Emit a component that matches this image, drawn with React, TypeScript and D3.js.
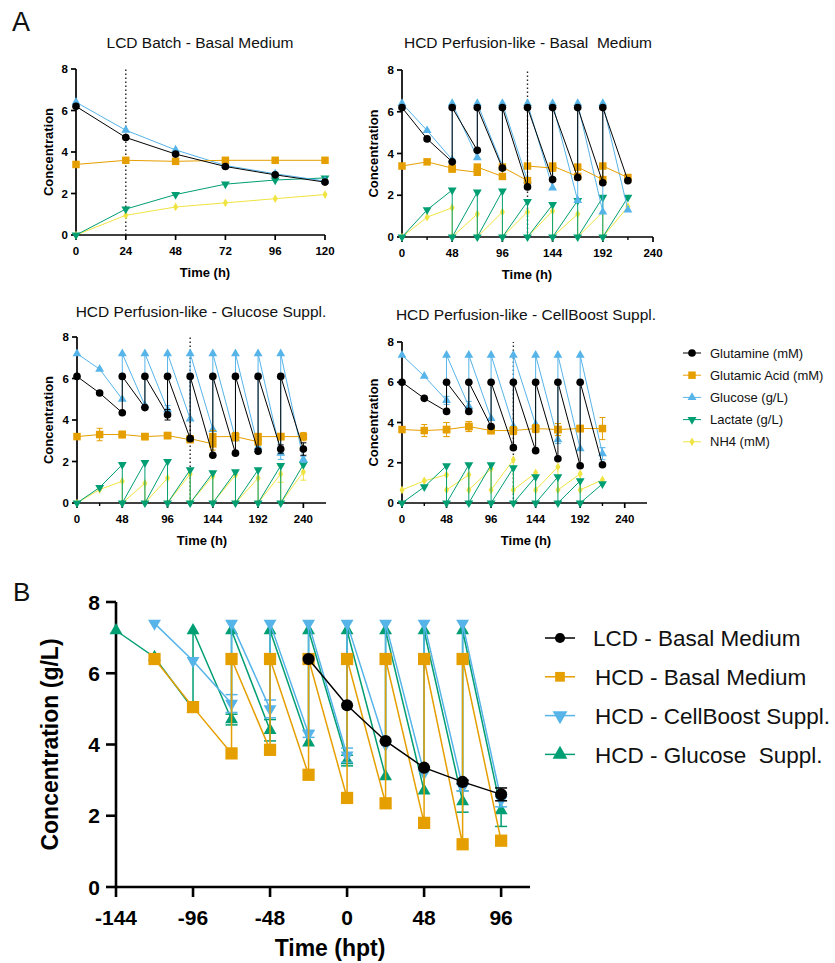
import React from 'react';
import * as d3 from 'd3';

const FONT = '"Liberation Sans", Arial, Helvetica, sans-serif';

// ---------- panel A : metabolites ----------
const metaNames = ['Glutamine (mM)', 'Glutamic Acid (mM)', 'Glucose (g/L)', 'Lactate (g/L)', 'NH4 (mM)'];
const metaColors = ['#000000', '#E69F00', '#56B4E9', '#009E73', '#F0E442'];
const metaShapes = ['circle', 'square', 'up', 'down', 'diamond'];
const yTicks = [0, 2, 4, 6, 8];

// LCD batch - basal medium
const lcdTime = [0, 24, 48, 72, 96, 120];
const lcdGlutamine = [6.2, 4.7, 3.9, 3.3, 2.9, 2.55];
const lcdGlutamic = [3.4, 3.6, 3.55, 3.6, 3.6, 3.6];
const lcdGlucose = [6.4, 5.05, 4.1, 3.35, 2.95, 2.6];
const lcdLactate = [0, 1.25, 1.95, 2.45, 2.65, 2.75];
const lcdNh4 = [0, 0.95, 1.35, 1.55, 1.75, 1.95];

// HCD perfusion-like: value before and after each medium exchange
const hcdTime = [0, 24, 48, 48, 72, 72, 96, 96, 120, 120, 144, 144, 168, 168, 192, 192, 216];
const basalGlutamine = [6.2, 4.7, 3.6, 6.2, 4.15, 6.2, 3.3, 6.2, 2.4, 6.2, 2.75, 6.2, 2.85, 6.2, 2.6, 6.2, 2.7];
const basalGlutamic = [3.4, 3.6, 3.3, 3.25, 3.1, 3.35, 2.9, 3.35, 2.7, 3.4, 3.3, 3.4, 2.9, 3.35, 2.75, 3.4, 2.85];
const basalGlucose = [6.4, 5.1, 3.7, 6.4, 3.8, 6.4, 3.4, 6.4, 2.7, 6.4, 2.35, 6.4, 1.75, 6.4, 1.2, 6.4, 1.3];
const basalLactate = [0, 1.3, 2.25, 0, 2.15, 0, 2.2, 0, 1.7, 0, 1.55, 0, 1.75, 0, 1.9, 0, 1.9];
const basalNh4 = [0, 0.95, 1.4, 0, 1.1, 0, 1.2, 0, 1.2, 0, 1.25, 0, 1.1, 0, 1.2, 0, 1.45];

const glcTime = [0, 24, 48, 48, 72, 72, 96, 96, 120, 120, 144, 144, 168, 168, 192, 192, 216, 216, 240];
const glcGlutamine = [6.1, 5.3, 4.35, 6.1, 4.6, 6.1, 4.25, 6.1, 3.1, 6.1, 2.3, 6.1, 2.4, 6.1, 2.5, 6.1, 2.6, 6.1, 2.6];
const glcGlutamineErr = [0, 0, 0, 0, 0, 0, 0.25, 0, 0.1, 0, 0, 0, 0, 0, 0, 0, 0.2, 0, 0.3];
const glcGlutamic = [3.2, 3.3, 3.3, 3.3, 3.2, 3.2, 3.25, 3.25, 3.05, 3.1, 2.85, 3.2, 3.2, 3.2, 2.95, 3.2, 3.2, 3.2, 3.2];
const glcGlutamicErr = [0, 0.3, 0.15, 0.15, 0.1, 0.1, 0.1, 0.1, 0.1, 0.1, 0.3, 0.3, 0.2, 0.2, 0.15, 0.15, 0.1, 0.1, 0.2];
const glcGlucose = [7.2, 6.45, 5.0, 7.2, 4.7, 7.2, 4.5, 7.2, 4.05, 7.2, 3.55, 7.2, 3.1, 7.2, 2.7, 7.2, 2.4, 7.2, 2.1];
const glcGlucoseErr = [0, 0, 0, 0, 0, 0, 0.2, 0, 0, 0, 0, 0, 0, 0, 0, 0, 0.3, 0, 0.15];
const glcLactate = [0, 0.75, 1.85, 0, 1.95, 0, 2.0, 0, 1.6, 0, 1.45, 0, 1.5, 0, 1.6, 0, 1.8, 0, 1.85];
const glcNh4 = [0, 0.65, 1.05, 0, 0.95, 0, 1.2, 0, 1.4, 0, 1.3, 0, 1.35, 0, 1.2, 0, 1.4, 0, 1.5];
const glcNh4Err = [0, 0, 0, 0, 0, 0, 0, 0, 0, 0, 0, 0, 0, 0, 0, 0, 0.4, 0, 0.4];

const cbGlutamine = [6.0, 5.2, 4.55, 6.0, 4.55, 6.0, 3.8, 6.0, 2.75, 6.0, 2.6, 6.0, 2.2, 6.0, 1.85, 6.0, 1.9];
const cbGlutamic = [3.65, 3.6, 3.65, 3.65, 3.8, 3.8, 3.6, 3.6, 3.6, 3.6, 3.7, 3.7, 3.65, 3.65, 3.7, 3.7, 3.7];
const cbGlutamicErr = [0.1, 0.3, 0.35, 0.35, 0.25, 0.25, 0.15, 0.15, 0.2, 0.2, 0.2, 0.2, 0.3, 0.3, 0.15, 0.15, 0.55];
const cbGlucose = [7.35, 6.3, 5.1, 7.35, 4.8, 7.35, 4.2, 7.35, 3.8, 7.35, 3.9, 7.35, 3.15, 7.35, 2.7, 7.35, 2.45];
const cbGlucoseErr = [0, 0, 0.2, 0, 0.25, 0, 0, 0, 0, 0, 0, 0, 0.2, 0, 0, 0, 0.3];
const cbLactate = [0, 0.8, 1.85, 0, 1.9, 0, 1.9, 0, 1.75, 0, 1.3, 0, 1.3, 0, 1.1, 0, 0.95];
const cbNh4 = [0.65, 1.1, 1.4, 0.65, 1.4, 0.65, 1.7, 0.65, 2.15, 0.65, 1.5, 0.65, 1.8, 0.65, 1.45, 0.65, 1.15];

// ---------- panel B : glucose vs hours post transfer ----------
const bNames = ['LCD - Basal Medium', 'HCD - Basal Medium', 'HCD - CellBoost Suppl.', 'HCD - Glucose  Suppl.'];
const bColors = ['#000000', '#E69F00', '#56B4E9', '#009E73'];
const bShapes = ['circle', 'square', 'down', 'up'];
const bXTicks = [-144, -96, -48, 0, 48, 96];

const lcdBTime = [-24, 0, 24, 48, 72, 96];
const lcdBGlucose = [6.4, 5.1, 4.1, 3.35, 2.95, 2.6];
const lcdBErr = [0, 0, 0, 0, 0.05, 0.18];
const hcdBTime = [-120, -96, -72, -72, -48, -48, -24, -24, 0, 0, 24, 24, 48, 48, 72, 72, 96];
const basalBGlucose = [6.4, 5.05, 3.75, 6.4, 3.85, 6.4, 3.15, 6.4, 2.5, 6.4, 2.35, 6.4, 1.8, 6.4, 1.2, 6.4, 1.3];
const cbBGlucose = [7.4, 6.35, 5.15, 7.4, 5.0, 7.4, 4.3, 7.4, 3.7, 7.4, 4.0, 7.4, 3.2, 7.4, 2.8, 7.4, 2.45];
const cbBErr = [0, 0, 0.25, 0, 0.25, 0, 0.1, 0, 0.2, 0, 0, 0, 0, 0, 0.1, 0, 0.2];
const glcBTime = [-144, -120, -96, -96, -72, -72, -48, -48, -24, -24, 0, 0, 24, 24, 48, 48, 72, 72, 96];
const glcBGlucose = [7.2, 6.45, 5.0, 7.2, 4.7, 7.2, 4.4, 7.2, 4.05, 7.2, 3.55, 7.2, 3.1, 7.2, 2.7, 7.2, 2.4, 7.2, 2.15];
const glcBErr = [0, 0, 0, 0, 0.15, 0, 0.3, 0, 0, 0, 0.15, 0, 0, 0, 0, 0, 0.3, 0, 0.45];

type Series = { name: string; time: number[]; values: number[]; err?: number[]; color: string; shape: string };

const symbolTypes: Record<string, d3.SymbolType> = {
  circle: d3.symbolCircle,
  square: d3.symbolSquare,
  up: d3.symbolTriangle,
  down: d3.symbolTriangle,
  diamond: d3.symbolDiamond,
};

const smallStyle = {
  axisW: 1.7, tick: 5, minorTick: 3, tickFont: 11.5, labelFont: 13, lineW: 1, cap: 3,
  sizes: { circle: 46, square: 56, up: 34, down: 34, diamond: 22 } as Record<string, number>,
  tickGapY: 8, tickBaseX: 20, labelBaseX: 42,
};
const bigStyle = {
  axisW: 2.6, tick: 10, minorTick: 5, tickFont: 21, labelFont: 23, lineW: 1.5, cap: 6,
  sizes: { circle: 115, square: 150, up: 72, down: 72, diamond: 60 } as Record<string, number>,
  tickGapY: 16, tickBaseX: 38, labelBaseX: 69,
};

function Marker({ x, y, shape, size, color }: { x: number; y: number; shape: string; size: number; color: string }) {
  const d = d3.symbol().type(symbolTypes[shape]).size(size)() as string;
  const rot = shape === 'down' ? ' rotate(180)' : '';
  return <path d={d} transform={`translate(${x},${y})${rot}`} fill={color} />;
}

function metaSeries(time: number[], vals: number[][], errs: (number[] | undefined)[] = []): Series[] {
  return vals.map((v, i) => ({
    name: metaNames[i], time, values: v, err: errs[i], color: metaColors[i], shape: metaShapes[i],
  }));
}

type PanelCfg = {
  left: number; right: number; top: number; bottom: number;
  xDomain: [number, number]; xTicks: number[]; minor: number[];
  title?: string; titleX?: number; titleY?: number;
  dotted?: number; yLabelX: number; yLabel: string; xLabel: string; xLabelX: number;
  series: Series[];
};

function Panel({ cfg, st }: { cfg: PanelCfg; st: typeof smallStyle }) {
  const x = d3.scaleLinear().domain(cfg.xDomain).range([cfg.left, cfg.right]);
  const y = d3.scaleLinear().domain([0, 8]).range([cfg.bottom, cfg.top]);
  const line = d3.line<number[]>().x(d => x(d[0])).y(d => y(d[1]));
  const midY = (cfg.top + cfg.bottom) / 2;
  return (
    <g fontFamily={FONT}>
      {cfg.title && (
        <text x={cfg.titleX} y={cfg.titleY} textAnchor="middle" fontSize={15.5} fill="#111" style={{ whiteSpace: 'pre' }}>{cfg.title}</text>
      )}
      {/* y axis */}
      <line x1={cfg.left} x2={cfg.left} y1={y(0)} y2={y(8)} stroke="#000" strokeWidth={st.axisW} />
      {yTicks.map(t => (
        <g key={'y' + t}>
          <line x1={cfg.left - st.tick} x2={cfg.left} y1={y(t)} y2={y(t)} stroke="#000" strokeWidth={st.axisW} />
          <text x={cfg.left - st.tickGapY} y={y(t)} dy="0.36em" textAnchor="end" fontSize={st.tickFont} fontWeight="bold">{t}</text>
        </g>
      ))}
      {/* x axis */}
      <line x1={cfg.left - st.axisW / 2} x2={cfg.right} y1={y(0)} y2={y(0)} stroke="#000" strokeWidth={st.axisW} />
      {cfg.xTicks.map(t => (
        <g key={'x' + t}>
          <line x1={x(t)} x2={x(t)} y1={y(0)} y2={y(0) + st.tick} stroke="#000" strokeWidth={st.axisW} />
          <text x={x(t)} y={y(0) + st.tickBaseX} textAnchor="middle" fontSize={st.tickFont} fontWeight="bold">{t}</text>
        </g>
      ))}
      {cfg.minor.map(t => (
        <line key={'m' + t} x1={x(t)} x2={x(t)} y1={y(0)} y2={y(0) + st.minorTick} stroke="#000" strokeWidth={st.axisW * 0.8} />
      ))}
      <text x={cfg.xLabelX} y={y(0) + st.labelBaseX} textAnchor="middle" fontSize={st.labelFont} fontWeight="bold">{cfg.xLabel}</text>
      <text transform={`translate(${cfg.yLabelX},${midY}) rotate(-90)`} dy="0.36em" textAnchor="middle" fontSize={st.labelFont} fontWeight="bold">{cfg.yLabel}</text>
      {cfg.dotted !== undefined && (
        <line x1={x(cfg.dotted)} x2={x(cfg.dotted)} y1={y(0)} y2={y(8)} stroke="#222" strokeWidth={1.4} strokeDasharray="1.4,2.6" />
      )}
      {cfg.series.map(s => {
        const pts = s.time.map((t, i) => [t, s.values[i]]);
        return (
          <g key={s.name}>
            <path d={line(pts) as string} fill="none" stroke={s.color} strokeWidth={st.lineW} />
            {s.err && s.err.map((e, i) => e > 0 ? (
              <g key={'e' + i} stroke={s.color} strokeWidth={st.lineW}>
                <line x1={x(pts[i][0])} x2={x(pts[i][0])} y1={y(pts[i][1] - e)} y2={y(pts[i][1] + e)} />
                <line x1={x(pts[i][0]) - st.cap} x2={x(pts[i][0]) + st.cap} y1={y(pts[i][1] - e)} y2={y(pts[i][1] - e)} />
                <line x1={x(pts[i][0]) - st.cap} x2={x(pts[i][0]) + st.cap} y1={y(pts[i][1] + e)} y2={y(pts[i][1] + e)} />
              </g>
            ) : null)}
            {pts.map((p, i) => (
              <Marker key={i} x={x(p[0])} y={y(p[1])} shape={s.shape} size={st.sizes[s.shape]} color={s.color} />
            ))}
          </g>
        );
      })}
    </g>
  );
}

export default function App() {
  // draw glutamine last so it sits on top
  const order = (s: Series[]) => [...s].reverse();
  const ticks48 = [0, 48, 96, 144, 192, 240];
  const minor24 = [24, 72, 120, 168, 216];

  const panels: PanelCfg[] = [
    {
      left: 76, right: 325, top: 69, bottom: 235, xDomain: [0, 120], xTicks: [0, 24, 48, 72, 96, 120], minor: [],
      title: 'LCD Batch - Basal Medium', titleX: 200, titleY: 48, dotted: 24,
      yLabelX: 48, yLabel: 'Concentration', xLabel: 'Time (h)', xLabelX: 205,
      series: order(metaSeries(lcdTime, [lcdGlutamine, lcdGlutamic, lcdGlucose, lcdLactate, lcdNh4])),
    },
    {
      left: 402, right: 653, top: 70, bottom: 237, xDomain: [0, 240], xTicks: ticks48, minor: minor24,
      title: 'HCD Perfusion-like - Basal  Medium', titleX: 528, titleY: 48, dotted: 120,
      yLabelX: 373, yLabel: 'Concentration', xLabel: 'Time (h)', xLabelX: 527,
      series: order(metaSeries(hcdTime, [basalGlutamine, basalGlutamic, basalGlucose, basalLactate, basalNh4])),
    },
    {
      left: 77, right: 326, top: 337, bottom: 503, xDomain: [0, 264], xTicks: ticks48, minor: minor24,
      title: 'HCD Perfusion-like - Glucose Suppl.', titleX: 201, titleY: 317, dotted: 120,
      yLabelX: 48, yLabel: 'Concentration', xLabel: 'Time (h)', xLabelX: 202,
      series: order(metaSeries(glcTime, [glcGlutamine, glcGlutamic, glcGlucose, glcLactate, glcNh4],
        [glcGlutamineErr, glcGlutamicErr, glcGlucoseErr, undefined, glcNh4Err])),
    },
    {
      left: 402, right: 647, top: 342, bottom: 503, xDomain: [0, 264], xTicks: ticks48, minor: minor24,
      title: 'HCD Perfusion-like - CellBoost Suppl.', titleX: 526, titleY: 320, dotted: 120,
      yLabelX: 373, yLabel: 'Concentration', xLabel: 'Time (h)', xLabelX: 526,
      series: order(metaSeries(hcdTime, [cbGlutamine, cbGlutamic, cbGlucose, cbLactate, cbNh4],
        [undefined, cbGlutamicErr, cbGlucoseErr, undefined, undefined])),
    },
  ];

  const bSeries: Series[] = [
    { name: bNames[3], time: glcBTime, values: glcBGlucose, err: glcBErr, color: bColors[3], shape: bShapes[3] },
    { name: bNames[2], time: hcdBTime, values: cbBGlucose, err: cbBErr, color: bColors[2], shape: bShapes[2] },
    { name: bNames[1], time: hcdBTime, values: basalBGlucose, color: bColors[1], shape: bShapes[1] },
    { name: bNames[0], time: lcdBTime, values: lcdBGlucose, err: lcdBErr, color: bColors[0], shape: bShapes[0] },
  ];
  const panelB: PanelCfg = {
    left: 116, right: 530, top: 602, bottom: 887, xDomain: [-144, 114], xTicks: bXTicks, minor: [],
    yLabelX: 50, yLabel: 'Concentration (g/L)', xLabel: 'Time (hpt)', xLabelX: 330,
    series: bSeries,
  };

  return (
    <svg width={835} height={963} style={{ position: 'absolute', left: 0, top: 0, background: '#fff' }} fontFamily={FONT}>
      <rect width={835} height={963} fill="#fff" />
      <text x={12} y={31} fontSize={27} fill="#111">A</text>
      <text x={13} y={601} fontSize={26} fill="#111">B</text>
      {panels.map((p, i) => <Panel key={i} cfg={p} st={smallStyle} />)}
      {/* legend A */}
      {metaNames.map((n, i) => {
        const cy = 353 + i * 22.2;
        return (
          <g key={n}>
            <line x1={683} x2={701} y1={cy} y2={cy} stroke={metaColors[i]} strokeWidth={1} />
            <Marker x={692} y={cy} shape={metaShapes[i]} size={smallStyle.sizes[metaShapes[i]]} color={metaColors[i]} />
            <text x={710} y={cy} dy="0.36em" fontSize={13} fill="#111">{n}</text>
          </g>
        );
      })}
      <Panel cfg={panelB} st={bigStyle} />
      {/* legend B */}
      {bNames.map((n, i) => {
        const cy = 638 + i * 38.8;
        return (
          <g key={n}>
            <line x1={545} x2={575} y1={cy} y2={cy} stroke={bColors[i]} strokeWidth={1.5} />
            <Marker x={560} y={cy} shape={bShapes[i]} size={i === 0 ? 80 : 95} color={bColors[i]} />
            <text x={i === 0 ? 593 : 595} y={cy} dy="0.36em" fontSize={22.5} fill="#111" style={{ whiteSpace: 'pre' }}>{n}</text>
          </g>
        );
      })}
    </svg>
  );
}
